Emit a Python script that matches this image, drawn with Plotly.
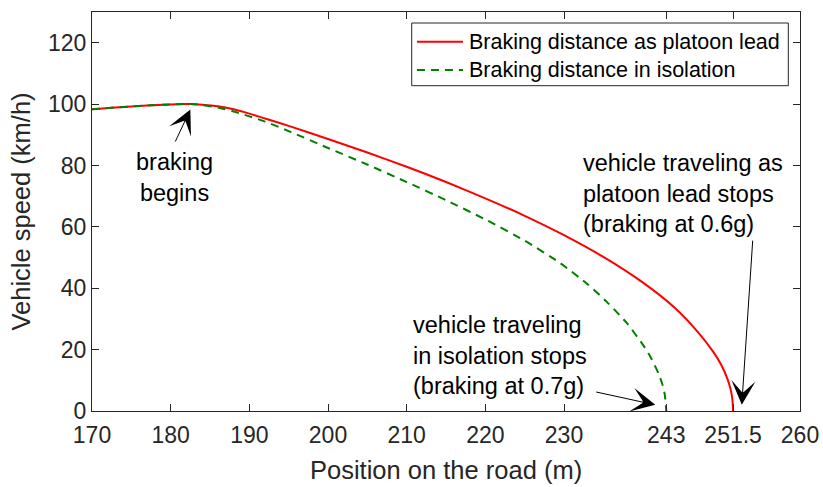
import plotly.graph_objects as go

# Data
pos_lead = [170, 173, 176, 179, 182.5, 184, 186, 188, 190, 192, 195, 200, 205, 210,
            215, 220, 225, 230, 235, 240, 244, 247, 249, 250, 250.8, 251.2, 251.4, 251.5]
speed_lead = [98.3, 98.9, 99.4, 99.8, 100, 99.8, 99.3, 98.3, 96.9, 95.3, 92.9, 88.6, 84.2, 79.6,
              74.6, 69.3, 63.6, 57.3, 50.2, 41.9, 33.8, 25.8, 19.2, 15.0, 10.3, 6.8, 3.9, 0]

pos_iso = [170, 173, 176, 179, 182.5, 184, 186, 188, 190, 192, 195, 200, 205, 210,
           215, 220, 225, 229.5, 233, 235.5, 238, 240, 241, 242, 242.5, 242.8, 243]
speed_iso = [98.3, 98.9, 99.4, 99.8, 100, 99.7, 98.9, 97.6, 96.0, 94.3, 91.2, 85.7, 80.3, 74.6,
             68.7, 62.4, 55.5, 48.2, 41.3, 35.4, 28.6, 21.7, 17.6, 12.3, 8.7, 5.5, 0]

x_tickvals = [170, 180, 190, 200, 210, 220, 230, 243, 251.5, 260]
x_ticktext = ["170", "180", "190", "200", "210", "220", "230", "243", "251.5", "260"]
y_tickvals = [0, 20, 40, 60, 80, 100, 120]

x_title = "Position on the road (m)"
y_title = "Vehicle speed (km/h)"
series_names = ["Braking distance as platoon lead", "Braking distance in isolation"]
series_colors = ["#FF0000", "#008000"]
series_dash = ["solid", "8px,6px"]

FONT = "Liberation Sans, Arial, sans-serif"
AX = "#262626"

fig = go.Figure()
for xs, ys, name, col, dash in [(pos_lead, speed_lead, series_names[0], series_colors[0], series_dash[0]),
                                (pos_iso, speed_iso, series_names[1], series_colors[1], series_dash[1])]:
    fig.add_trace(go.Scatter(x=xs, y=ys, mode="lines", name=name, showlegend=False,
                             line=dict(color=col, width=2, dash=dash, shape="spline", smoothing=0.6)))

# hand-drawn legend box (MATLAB style)
fig.add_shape(type="rect", xref="paper", yref="paper", x0=0.4516, x1=0.9835, y0=0.8153, y1=0.9724,
              line=dict(color=AX, width=1), fillcolor="white", layer="above")
legend_rows = [0.9256, 0.8546]
for i, yrow in enumerate(legend_rows):
    fig.add_shape(type="line", xref="paper", yref="paper", x0=0.459, x1=0.524, y0=yrow, y1=yrow,
                  line=dict(color=series_colors[i], width=2, dash=series_dash[i]), layer="above")
    fig.add_annotation(xref="paper", yref="paper", x=0.529, y=yrow, text=series_names[i],
                       xanchor="left", yanchor="middle", showarrow=False,
                       font=dict(family=FONT, size=21.5, color="black"))

# x-axis title as an annotation (placed like MATLAB)
fig.add_annotation(xref="paper", yref="paper", x=0.5, y=-0.148, text=x_title,
                   xanchor="center", yanchor="middle", showarrow=False,
                   font=dict(family=FONT, size=25.5, color=AX))

# text annotations
texts = [
    dict(x=180.5, y=76.0, text="braking<br>begins", xanchor="center"),
    dict(x=232.15, y=71.0, text="vehicle traveling as<br>platoon lead stops<br>(braking at 0.6g)", xanchor="left"),
    dict(x=210.6, y=18.0, text="vehicle traveling<br>in isolation stops<br>(braking at 0.7g)", xanchor="left"),
]
for t in texts:
    fig.add_annotation(x=t["x"], y=t["y"], text=t["text"], xanchor=t["xanchor"], yanchor="middle",
                       align="left" if t["xanchor"] == "left" else "center",
                       showarrow=False, font=dict(family=FONT, size=23.5, color="black"))

# arrows (tail -> tip)
arrows = [
    ((180.5, 87.3), (182.5, 98.2)),
    ((254.0, 56.0), (252.6, 2.0)),
    ((233.9, 6.3), (241.6, 2.0)),
]
for (tx, ty), (hx, hy) in arrows:
    fig.add_annotation(x=hx, y=hy, ax=tx, ay=ty, xref="x", yref="y", axref="x", ayref="y",
                       text="", showarrow=True, arrowhead=3, arrowsize=4, arrowwidth=1,
                       arrowcolor="black", standoff=0, startstandoff=0)

fig.update_layout(
    width=823, height=487,
    margin=dict(l=92, r=23, t=12, b=76),
    paper_bgcolor="white", plot_bgcolor="white",
    font=dict(family=FONT, size=23, color=AX),
    showlegend=False,
    xaxis=dict(range=[170, 260], tickvals=x_tickvals, ticktext=x_ticktext,
               showline=True, linecolor=AX, linewidth=1, mirror="ticks",
               ticks="inside", ticklen=7, tickcolor=AX, showgrid=False, zeroline=False,
               ticklabelstandoff=3, automargin=False,
               tickfont=dict(family=FONT, size=23, color=AX)),
    yaxis=dict(range=[0, 130], tickvals=y_tickvals,
               showline=True, linecolor=AX, linewidth=1, mirror="ticks",
               ticks="inside", ticklen=7, tickcolor=AX, showgrid=False, zeroline=False,
               automargin=False,
               tickfont=dict(family=FONT, size=23, color=AX),
               title=dict(text=y_title, font=dict(family=FONT, size=25.5, color=AX), standoff=10)),
)

fig.write_html("out.html")
